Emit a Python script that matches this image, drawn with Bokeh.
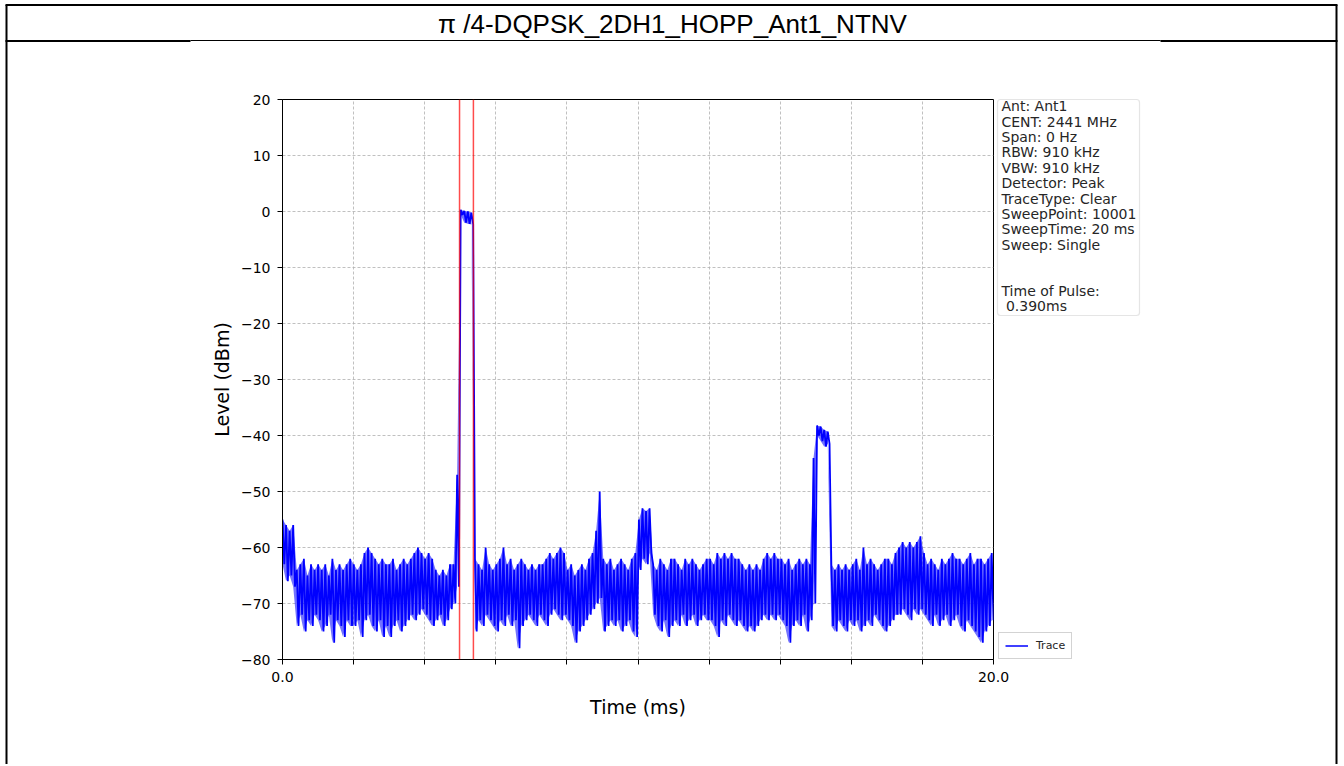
import numpy as np
from bokeh.plotting import figure
from bokeh.models import (Range1d, FixedTicker, Span, BoxAnnotation, Legend,
                          LegendItem)
from bokeh.core.properties import value
from bokeh.embed import file_html
from bokeh.resources import INLINE

# ---------------- data ----------------
title_text = "\u03c0 /4-DQPSK_2DH1_HOPP_Ant1_NTNV"
x_label = "Time (ms)"
y_label = "Level (dBm)"
sweep_time_ms = 20.0
x_tick_values = [0, 2, 4, 6, 8, 10, 12, 14, 16, 18, 20]
x_tick_labels = ["0.0", "", "", "", "", "", "", "", "", "", "20.0"]
y_tick_values = [-80, -70, -60, -50, -40, -30, -20, -10, 0, 10, 20]
y_tick_labels = ["\u221280", "\u221270", "\u221260", "\u221250", "\u221240",
                 "\u221230", "\u221220", "\u221210", "0", "10", "20"]
cursor_times_ms = [4.98, 5.37]
info_lines = ["Ant: Ant1", "CENT: 2441 MHz", "Span: 0 Hz", "RBW: 910 kHz",
              "VBW: 910 kHz", "Detector: Peak", "TraceType: Clear",
              "SweepPoint: 10001", "SweepTime: 20 ms", "Sweep: Single",
              "", "", "Time of Pulse:", "\u00a00.390ms"]
legend_label = "Trace"

# upper / lower envelope of the trace, read per 0.1 ms
level_hi = [
    -55, -56, -57, -56, -64, -63, -62, -65, -63, -64,
    -63, -64, -63, -65, -62, -64, -63, -64, -63, -62,
    -63, -64, -63, -61, -60, -61, -62, -63, -62, -63,
    -63, -62, -64, -63, -62, -63, -62, -61, -60, -61,
    -62, -61, -62, -64, -65, -64, -65, -63, -63, -47,
    0.3, 0.1, 0.0, -0.2, -62, -63, -64, -60, -63, -64,
    -63, -62, -60, -63, -62, -64, -63, -62, -63, -64,
    -63, -64, -63, -63, -62, -61, -62, -61, -60, -61,
    -64, -63, -65, -64, -63, -64, -62, -61, -57, -50,
    -62, -63, -62, -64, -63, -62, -63, -64, -62, -61,
    -55, -53, -53.5, -53, -63, -64, -62, -63, -64, -62,
    -62, -63, -64, -62, -63, -62, -63, -64, -63, -62,
    -62, -63, -61, -62, -61, -62, -61, -62, -62, -63,
    -64, -63, -64, -63, -64, -62, -61, -62, -61, -62,
    -62, -63, -62, -64, -63, -62, -63, -62, -63, -44,
    -38.2, -38.4, -39.0, -39.3, -63, -64, -63, -64, -63, -64,
    -63, -62, -64, -60, -63, -62, -63, -64, -63, -62,
    -62, -63, -61, -60, -59, -60, -59, -60, -59, -58,
    -61, -63, -62, -63, -64, -62, -63, -62, -61, -62,
    -62, -63, -62, -61, -63, -62, -62, -63, -62, -61,
]
level_lo = [
    -63, -66, -65, -67, -74, -72, -75, -73, -74, -72,
    -73, -75, -74, -72, -77, -73, -74, -76, -73, -74,
    -74, -73, -76, -73, -72, -74, -75, -73, -76, -74,
    -76, -74, -73, -75, -74, -73, -72, -73, -72, -71,
    -72, -73, -74, -73, -72, -74, -73, -71, -70, -67,
    -0.6, -2.0, -2.2, -2.3, -75, -73, -74, -72, -73, -74,
    -75, -73, -74, -72, -74, -73, -78, -74, -73, -72,
    -73, -74, -72, -73, -74, -72, -71, -72, -73, -72,
    -73, -74, -77, -75, -74, -73, -72, -71, -70, -69,
    -75, -74, -73, -74, -73, -75, -74, -73, -75, -76,
    -64, -62, -63, -61, -72, -74, -75, -73, -76, -74,
    -73, -74, -72, -74, -73, -72, -74, -73, -72, -73,
    -73, -74, -76, -73, -74, -72, -73, -74, -73, -74,
    -75, -74, -75, -74, -73, -72, -73, -72, -73, -72,
    -73, -74, -77, -74, -73, -74, -72, -75, -73, -70,
    -40.0, -41.0, -42.0, -41.5, -74, -75, -73, -74, -75, -73,
    -74, -73, -75, -74, -73, -74, -72, -73, -74, -75,
    -74, -73, -72, -72, -71, -72, -73, -71, -72, -71,
    -72, -73, -74, -72, -74, -73, -72, -74, -73, -72,
    -74, -75, -73, -74, -75, -76, -77, -75, -74, -73,
]

# ---------------- build trace ----------------
n = len(level_hi)
levels = np.empty(2 * n)
levels[0::2] = level_hi
levels[1::2] = level_lo
times = np.linspace(0, sweep_time_ms, 2 * n)

W, H = 1342, 764          # canvas size of both layers (page px)
FL, FR, FT, FB = 282, 993, 99, 659   # plot frame edges on the page

# ---------------- background layer: page frame, title, info box, legend ----------------
d = figure(width=W, height=H, x_range=Range1d(0, W), y_range=Range1d(H, 0),
           x_axis_type=None, y_axis_type=None, output_backend="svg",
           toolbar_location=None, min_border=0)
d.outline_line_color = None
d.grid.visible = False
d.background_fill_color = "white"
d.border_fill_color = "white"

# page table lines
d.segment(x0=[6, 5, 1336, 5, 1160], y0=[4.5, 4.5, 4.5, 40.5, 40.5],
          x1=[6, 1337, 1336, 190, 1337], y1=[H + 10, 4.5, H + 10, 40.5, 40.5],
          line_color="black", line_width=2)
d.segment(x0=[190], y0=[40], x1=[1160], y1=[40], line_color="black", line_width=1)
d.text(x=[672], y=[23], text=[title_text], text_align="center",
       text_baseline="middle", text_font=value("Liberation Sans"),
       text_font_size="26px", text_color="black")

# info box
d.add_layout(BoxAnnotation(left=997, right=1139, top=99, bottom=315,
                           fill_color="white", fill_alpha=1.0,
                           line_color="#a8a8a8", line_width=1.2, border_radius=3,
                           level="underlay"))
info_y = [105.8 + 15.38 * i for i in range(len(info_lines))]
d.text(x=[1001] * len(info_lines), y=info_y, text=info_lines,
       text_align="left", text_baseline="middle",
       text_font=value("DejaVu Sans"), text_font_size="14px",
       text_color="#262626")

# legend of the trace (sample glyph kept off-canvas)
legend_glyph = d.line(x=[-40, -20], y=[-40, -40], line_color="blue", line_width=1.5)
lg = Legend(items=[LegendItem(label=legend_label, renderers=[legend_glyph])],
            location=(998, H - FB))
lg.label_text_font = "DejaVu Sans"
lg.label_text_font_size = "11px"
lg.label_text_color = "#262626"
lg.glyph_width = 23
lg.glyph_height = 11
lg.padding = 6
lg.margin = 0
lg.spacing = 0
lg.label_standoff = 8
lg.border_line_color = "#a8a8a8"
lg.border_line_width = 1.2
lg.background_fill_color = "white"
lg.background_fill_alpha = 1.0
d.add_layout(lg)

# ---------------- main chart layer (overlaid) ----------------
p = figure(width=W, height=H,
           x_range=Range1d(0, sweep_time_ms), y_range=Range1d(-80, 20),
           output_backend="svg", toolbar_location=None,
           min_border_left=FL, min_border_right=W - FR,
           min_border_top=FT, min_border_bottom=H - FB,
           margin=(-H, 0, 0, 0))
p.background_fill_color = "white"
p.border_fill_alpha = 0.0
p.outline_line_color = "black"
p.outline_line_width = 1

for ax in (p.xaxis, p.yaxis):
    ax.axis_line_color = "black"
    ax.axis_line_width = 1
    ax.major_tick_in = 0
    ax.major_tick_out = 5
    ax.major_tick_line_color = "black"
    ax.major_tick_line_width = 1
    ax.minor_tick_line_color = None
    ax.major_label_text_font = "DejaVu Sans"
    ax.major_label_text_font_size = "14px"
    ax.major_label_text_color = "black"
    ax.axis_label_text_font = "DejaVu Sans"
    ax.axis_label_text_font_size = "19px"
    ax.axis_label_text_font_style = "normal"
    ax.axis_label_text_color = "black"

p.xaxis.ticker = FixedTicker(ticks=x_tick_values)
p.xaxis.major_label_overrides = dict(zip(x_tick_values, x_tick_labels))
p.yaxis.ticker = FixedTicker(ticks=y_tick_values)
p.yaxis.major_label_overrides = dict(zip(y_tick_values, y_tick_labels))
p.xaxis.axis_label = x_label
p.yaxis.axis_label = y_label
p.xaxis.major_label_standoff = 7
p.yaxis.major_label_standoff = 7
p.xaxis.axis_label_standoff = 11
p.yaxis.axis_label_standoff = 5

p.xgrid.ticker = FixedTicker(ticks=x_tick_values)
p.ygrid.ticker = FixedTicker(ticks=y_tick_values)
for g in (p.xgrid, p.ygrid):
    g.grid_line_color = "#b0b0b0"
    g.grid_line_width = 0.8
    g.grid_line_dash = "3 2"

p.varea(x=times[0::2], y1=level_lo, y2=level_hi, fill_color="blue", fill_alpha=0.55)
p.line(times, levels, line_color="blue", line_width=1.8)

for t in cursor_times_ms:
    p.add_layout(Span(location=t, dimension="height", line_color="red",
                      line_alpha=0.7, line_width=1.5))

open("out.html", "w").write(file_html([d, p], INLINE))
